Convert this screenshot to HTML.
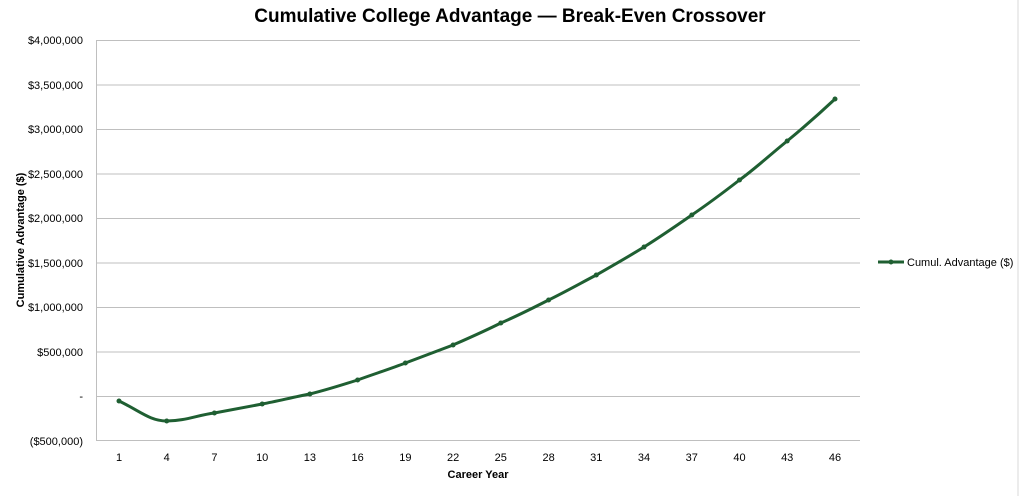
<!DOCTYPE html>
<html><head><meta charset="utf-8"><style>
body{margin:0;background:#fff;}
svg{display:block;font-family:"Liberation Sans",sans-serif;}
</style></head><body>
<svg width="1023" height="496" viewBox="0 0 1023 496">
<rect x="0" y="0" width="1023" height="496" fill="#fff"/>
<line x1="1018" y1="0" x2="1018" y2="496" stroke="#d9d9d9"/>
<text x="510" y="22" text-anchor="middle" font-size="19" font-weight="bold" fill="#000">Cumulative College Advantage — Break-Even Crossover</text>
<g stroke="#bfbfbf" stroke-width="1">
<line x1="96" y1="40.5" x2="860" y2="40.5"/>
<line x1="96" y1="85" x2="860" y2="85"/>
<line x1="96" y1="129.5" x2="860" y2="129.5"/>
<line x1="96" y1="174" x2="860" y2="174"/>
<line x1="96" y1="218.5" x2="860" y2="218.5"/>
<line x1="96" y1="263" x2="860" y2="263"/>
<line x1="96" y1="307.5" x2="860" y2="307.5"/>
<line x1="96" y1="352" x2="860" y2="352"/>
<line x1="96" y1="396.5" x2="860" y2="396.5"/>
<line x1="96" y1="440.5" x2="860" y2="440.5"/>
<line x1="96.5" y1="40" x2="96.5" y2="441"/>
</g>
<g font-size="11" text-anchor="end" fill="#000">
<text x="83" y="44">$4,000,000</text>
<text x="83" y="89">$3,500,000</text>
<text x="83" y="133">$3,000,000</text>
<text x="83" y="178">$2,500,000</text>
<text x="83" y="222">$2,000,000</text>
<text x="83" y="267">$1,500,000</text>
<text x="83" y="311">$1,000,000</text>
<text x="83" y="356">$500,000</text>
<text x="83" y="400">-</text>
<text x="83" y="445">($500,000)</text>
</g>
<g font-size="11" text-anchor="middle" fill="#000">
<text x="119" y="461">1</text><text x="166.7" y="461">4</text><text x="214.4" y="461">7</text><text x="262.2" y="461">10</text>
<text x="309.9" y="461">13</text><text x="357.6" y="461">16</text><text x="405.4" y="461">19</text><text x="453.1" y="461">22</text>
<text x="500.8" y="461">25</text><text x="548.6" y="461">28</text><text x="596.3" y="461">31</text><text x="644" y="461">34</text>
<text x="691.8" y="461">37</text><text x="739.5" y="461">40</text><text x="787.2" y="461">43</text><text x="835" y="461">46</text>
</g>
<text x="478" y="478" text-anchor="middle" font-size="11" font-weight="bold">Career Year</text>
<text transform="translate(24,240) rotate(-90)" text-anchor="middle" font-size="11" font-weight="bold">Cumulative Advantage ($)</text>
<path d="M119,401 C140,411 150,421 166.7,421 C185,421 198,415 214.4,413 C230,410 246,407 262.2,404 C278,401 294,397 309.9,394 C326,390 342,385 357.6,380 C374,374 390,369 405.4,363 C421,357 437,351 453.1,345 C469,338 485,331 500.8,323 C517,316 533,308 548.6,300 C565,292 581,283 596.3,275 C612,266 628,257 644,247 C660,237 676,226 691.8,215 C708,204 724,192 739.5,180 C756,168 771,154 787.2,141 C803,128 819,114 835,99" fill="none" stroke="#1f5f32" stroke-width="3"/>
<g fill="#1f5f32">
<circle cx="119" cy="401" r="2.5"/><circle cx="166.7" cy="421" r="2.5"/><circle cx="214.4" cy="413" r="2.5"/><circle cx="262.2" cy="404" r="2.5"/>
<circle cx="309.9" cy="394" r="2.5"/><circle cx="357.6" cy="380" r="2.5"/><circle cx="405.4" cy="363" r="2.5"/><circle cx="453.1" cy="345" r="2.5"/>
<circle cx="500.8" cy="323" r="2.5"/><circle cx="548.6" cy="300" r="2.5"/><circle cx="596.3" cy="275" r="2.5"/><circle cx="644" cy="247" r="2.5"/>
<circle cx="691.8" cy="215" r="2.5"/><circle cx="739.5" cy="180" r="2.5"/><circle cx="787.2" cy="141" r="2.5"/><circle cx="835" cy="99" r="2.5"/>
</g>
<line x1="878" y1="262" x2="904" y2="262" stroke="#1f5f32" stroke-width="3"/>
<circle cx="891" cy="262" r="2.5" fill="#1f5f32"/>
<text x="907" y="266" font-size="11">Cumul. Advantage ($)</text>
</svg>
</body></html>
